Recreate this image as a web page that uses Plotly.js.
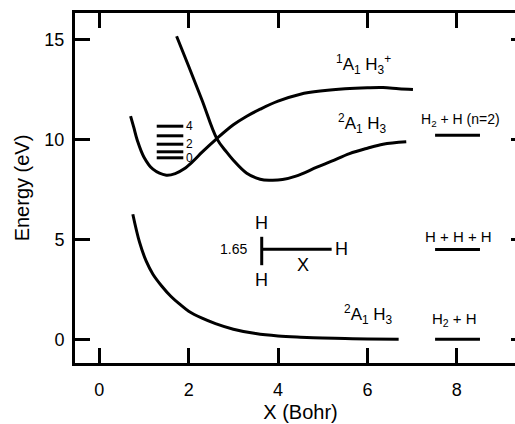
<!DOCTYPE html>
<html>
<head>
<meta charset="utf-8">
<script src="https://cdn.plot.ly/plotly-3.0.1.min.js"></script>
<style>
  html, body { margin: 0; padding: 0; background: #fff; overflow: hidden; }
  #plot { width: 530px; height: 424px; }
</style>
</head>
<body>
<div id="plot"></div>
<script>
// ground state 2A1 H3 (repulsive)
const groundX = [0.75, 0.9, 1.05, 1.2, 1.4, 1.6, 1.8, 2.0, 2.3, 2.6, 3.0, 3.5, 4.0, 4.5, 5.0, 5.5, 6.0, 6.7];
const groundY = [6.25, 4.85, 3.9, 3.25, 2.65, 2.15, 1.75, 1.4, 1.05, 0.78, 0.5, 0.28, 0.16, 0.1, 0.06, 0.03, 0.01, 0.0];

// curve starting at small X with the vibrational well
const wellX = [0.70, 0.77, 0.85, 1.0, 1.2, 1.5, 1.7, 1.9, 2.1, 2.3, 2.63, 3.0, 3.3, 3.6, 4.0, 4.5, 5.0, 5.5, 6.0, 6.35, 6.7, 7.02];
const wellY = [11.15, 10.6, 9.95, 9.1, 8.5, 8.2, 8.28, 8.52, 8.9, 9.35, 10.03, 10.72, 11.15, 11.5, 11.9, 12.25, 12.42, 12.52, 12.57, 12.58, 12.52, 12.48];

// curve coming down from high energy
const dropX = [1.73, 2.0, 2.3, 2.63, 2.85, 3.0, 3.3, 3.6, 3.82, 4.1, 4.4, 4.87, 5.2, 5.6, 6.0, 6.35, 6.87];
const dropY = [15.15, 13.65, 11.95, 10.03, 9.35, 8.95, 8.3, 8.0, 7.95, 7.98, 8.15, 8.6, 8.9, 9.28, 9.55, 9.75, 9.87];

// vibrational levels v = 0..4
const levelX = [1.285, 1.88];
const levelY = [9.07, 9.37, 9.75, 10.17, 10.65];
const levelText = ["0", "", "2", "", "4"];

// dissociation limits
const limitX = [7.515, 8.52];
const limitY = [10.2, 4.48, 0.0];
const limitText = ["H<sub>2</sub> + H (n=2)", "H + H + H", "H<sub>2</sub> + H"];
const limitTextX = [8.09, 8.03, 7.96];
const limitTextY = [10.95, 5.15, 1.0];

// state labels
const stateText = ["<sup>1</sup>A<sub>1</sub> H<sub>3</sub><sup>+</sup>", "<sup>2</sup>A<sub>1</sub> H<sub>3</sub>", "<sup>2</sup>A<sub>1</sub> H<sub>3</sub>"];
const stateX = [5.92, 5.9, 6.02];
const stateY = [13.75, 10.8, 1.25];

// geometry sketch
const stemX = [3.635, 3.635];
const stemY = [5.12, 3.7];
const armX = [3.635, 5.2];
const armY = [4.5, 4.5];
const sketchText = ["H", "H", "H", "X", "1.65"];
const sketchX = [3.635, 3.635, 5.43, 4.56, 3.0];
const sketchY = [5.8, 2.95, 4.5, 3.7, 4.5];

const font = "Liberation Sans, Arial, Helvetica, sans-serif";
const black = "#000";

const curve = (x, y) => ({
  x: x, y: y, type: "scatter", mode: "lines",
  line: { color: black, width: 3, shape: "spline", smoothing: 1 },
  hoverinfo: "skip"
});
const seg = (x, y) => ({
  x: x, y: y, type: "scatter", mode: "lines",
  line: { color: black, width: 3 },
  hoverinfo: "skip"
});

const traces = [curve(groundX, groundY), curve(wellX, wellY), curve(dropX, dropY)];
levelY.forEach(y => traces.push(seg(levelX, [y, y])));
limitY.forEach(y => traces.push(seg(limitX, [y, y])));
traces.push(seg(stemX, stemY));
traces.push(seg(armX, armY));

const annotations = [];
levelY.forEach((y, i) => {
  if (levelText[i]) annotations.push({
    x: levelX[1] + 0.02, y: y, text: levelText[i], xanchor: "left", yanchor: "middle",
    showarrow: false, font: { family: font, size: 12, color: black }
  });
});
limitText.forEach((t, i) => annotations.push({
  x: limitTextX[i], y: limitTextY[i], text: t, showarrow: false,
  font: { family: font, size: i === 0 ? 14 : 15, color: black }
}));
stateText.forEach((t, i) => annotations.push({
  x: stateX[i], y: stateY[i], text: t, showarrow: false,
  font: { family: font, size: 17, color: black }
}));
sketchText.forEach((t, i) => annotations.push({
  x: sketchX[i], y: sketchY[i], text: t, showarrow: false,
  font: { family: font, size: t === "1.65" ? 14 : 18, color: black }
}));

const axisCommon = {
  showgrid: false, zeroline: false,
  showline: true, linecolor: black, linewidth: 3, mirror: "ticks",
  ticks: "inside", ticklen: 15, tickwidth: 3, tickcolor: black,
  tickfont: { family: font, size: 18, color: black },
  fixedrange: true
};

const layout = {
  width: 530,
  height: 424,
  margin: { l: 75, r: 4, t: 13, b: 61 },
  paper_bgcolor: "#fff",
  plot_bgcolor: "#fff",
  showlegend: false,
  xaxis: Object.assign({}, axisCommon, {
    range: [-0.544, 9.55],
    tickvals: [0, 2, 4, 6, 8],
    ticklabelstandoff: 8,
    title: { text: "X (Bohr)", font: { family: font, size: 20, color: black }, standoff: 7 }
  }),
  yaxis: Object.assign({}, axisCommon, {
    range: [-1.19, 16.31],
    tickvals: [0, 5, 10, 15],
    ticklabelstandoff: 4,
    title: { text: "Energy (eV)", font: { family: font, size: 20, color: black }, standoff: 10 }
  }),
  annotations: annotations
};

Plotly.newPlot("plot", traces, layout, { displayModeBar: false, staticPlot: true });
</script>
</body>
</html>
